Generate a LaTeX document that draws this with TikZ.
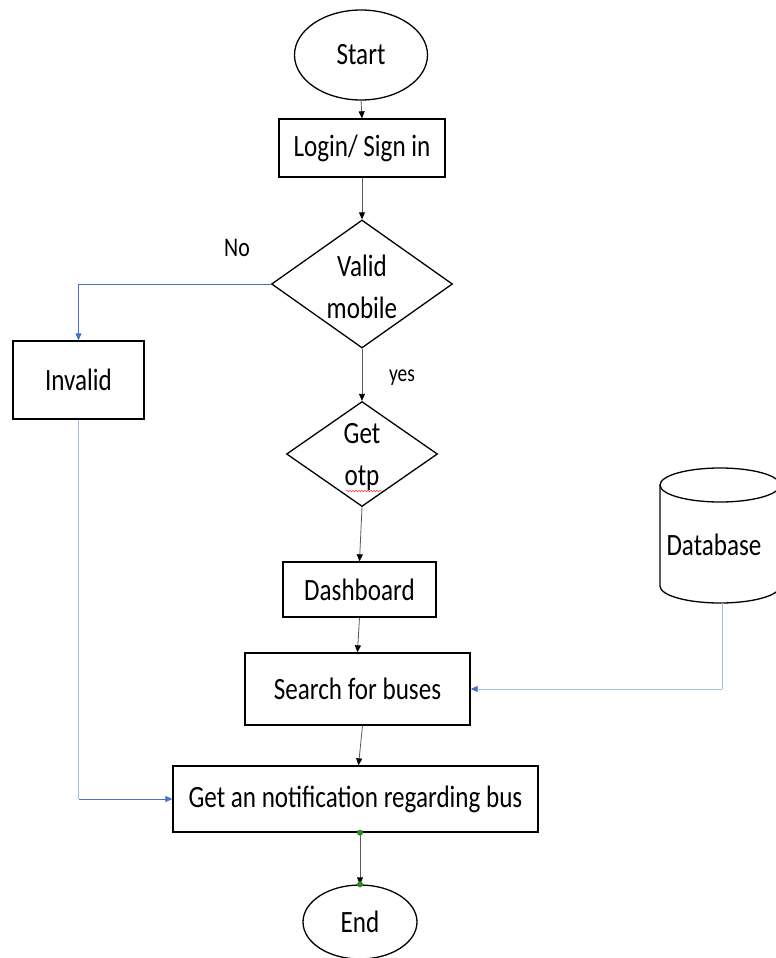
\documentclass[tikz,border=0pt]{standalone}
\usepackage{fontspec}
\setmainfont{Carlito}[FakeStretch=0.81]
\usetikzlibrary{shapes.geometric,arrows.meta,decorations.pathmorphing}
\definecolor{conn}{HTML}{5A5A5A}
\definecolor{blueA}{HTML}{4472C4}
\definecolor{blueL}{HTML}{A4BCE6}
\definecolor{dotg}{HTML}{2E8B22}
\tikzset{
  box/.style={draw=black, line width=1.3pt, rectangle, inner sep=0pt, font=\fontsize{31}{42}\selectfont},
  oval/.style={draw=black, line width=1.3pt, ellipse, inner sep=0pt, font=\fontsize{31}{42}\selectfont},
  dia/.style={draw=black, line width=1.3pt, diamond, inner sep=0pt},
  txt/.style={inner sep=0pt, align=center, font=\fontsize{31}{42}\selectfont},
  flow/.style={draw=conn, line width=0.8pt, -{Triangle[length=7pt,width=6pt,color=black]}},
  bflow/.style={draw=blueA, line width=0.9pt, -{Triangle[length=7pt,width=6pt,color=blueA]}},
}
\begin{document}
\begin{tikzpicture}[x=1pt,y=1pt]
\useasboundingbox (0,0) rectangle (776,-958);
\fill[white] (0,0) rectangle (776,-958);

\node[oval, minimum width=133pt, minimum height=90pt] (start) at (361,-55) {Start};
\node[box, minimum width=166pt, minimum height=58pt] (login) at (362,-148) {Login/ Sign in};
\node[dia, minimum width=181pt, minimum height=128pt] (valid) at (362,-284) {};
\node[txt] (validt) at (362,-287) {Valid\\mobile};
\node[box, minimum width=131pt, minimum height=78pt] (invalid) at (78.5,-380) {Invalid};
\node[dia, minimum width=151pt, minimum height=105pt] (otp) at (362,-454) {};
\node[txt] (otpt) at (362,-457) {Get\\otp};
\node[box, minimum width=153pt, minimum height=55pt] (dash) at (359.5,-589.5) {Dashboard};
\node[box, minimum width=225pt, minimum height=72pt] (search) at (357.5,-689) {Search for buses};
\node[box, minimum width=365pt, minimum height=66pt] (notif) at (355.5,-799) {Get an notification regarding bus};
\node[oval, minimum width=114pt, minimum height=74pt] (end) at (360,-922) {End};

% database cylinder
\draw[line width=1.3pt] (720,-485) ellipse [x radius=60pt, y radius=17pt];
\draw[line width=1.3pt] (660,-485) -- (660,-586) arc[start angle=180, end angle=360, x radius=60pt, y radius=17pt] -- (780,-485);
\node[txt] (db) at (714,-545) {Database};
\coordinate (dbb) at (722,-603);

% labels
\node[inner sep=0pt, font=\fontsize{27}{30}\selectfont] (no) at (237,-248) {No};
\node[inner sep=0pt, font=\fontsize{24}{28}\selectfont] (yes) at (402,-378) {yes};

% spell-check squiggle under otp
\draw[red!80, line width=0.5pt, decorate, decoration={snake, amplitude=0.8pt, segment length=3pt}] (346,-491) -- (382,-491);

% connectors
\draw[flow] (start.south) -- (login.north);
\draw[flow] (login.south) -- (valid.north);
\draw[bflow] (valid.west) -| (invalid.north);
\draw[flow] (valid.south) -- (otp.north);
\draw[flow] (otp.south) -- (dash.north);
\draw[flow] (dash.south) -- (search.north);
\draw[flow] ([xshift=5pt]search.south) -- ([xshift=3pt]notif.north);
\draw[flow] (end.north |- notif.south) -- (end.north);
\draw[blueL, line width=0.9pt] (invalid.south) -- (invalid.south |- notif.west);
\draw[bflow] (invalid.south |- notif.west) -- (notif.west);
\draw[blueL, line width=1pt] (dbb) -- (dbb |- search.east);
\draw[bflow, draw=blueL] (dbb |- search.east) -- (search.east);

% green dots
\fill[dotg] (end.north |- notif.south) circle (3pt);
\fill[dotg] (end.north) circle (3pt);
\end{tikzpicture}
\end{document}
